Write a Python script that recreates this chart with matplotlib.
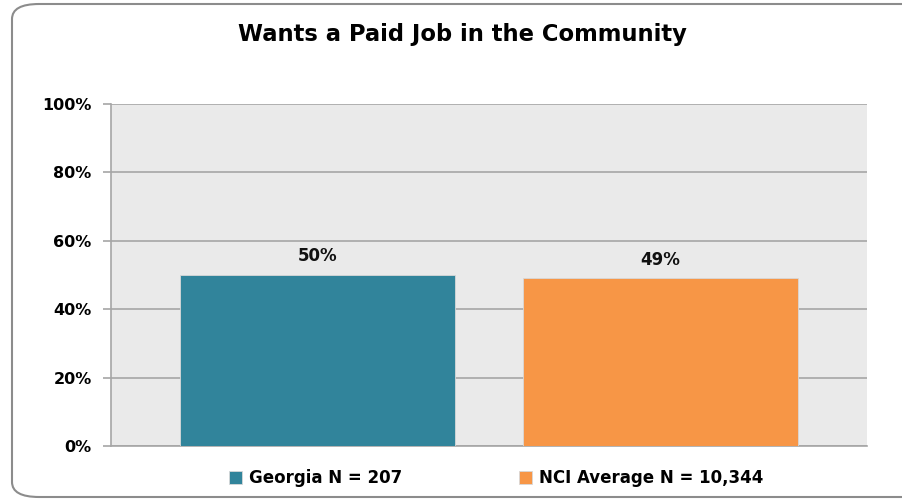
import matplotlib.pyplot as plt
from matplotlib.patches import FancyBboxPatch

plt.rcParams['font.family'] = ['DejaVu Sans']

# data
series = ['Georgia N = 207', 'NCI Average N = 10,344']
values = [50, 49]
colors = ['#31849B', '#F79646']
yticks = [0, 20, 40, 60, 80, 100]
title = 'Wants a Paid Job in the Community'

fig = plt.figure(figsize=(9.03, 5.01), dpi=100)

# rounded outer border (right side runs off the image)
border = FancyBboxPatch((12 / 903, 4 / 501), 920 / 903, 493 / 501,
                        boxstyle='round,pad=0,rounding_size=0.03',
                        transform=fig.transFigure, facecolor='white',
                        edgecolor='#8C8C8C', linewidth=1.5, zorder=-5)
fig.patches.append(border)

ax = fig.add_axes([111 / 903, 1 - 446 / 501, 756 / 903, 342 / 501])
ax.set_facecolor('#EAEAEA')

handles = []
for i, (name, v, c) in enumerate(zip(series, values, colors)):
    b = ax.bar(i, v, width=0.8, color=c, edgecolor='#D8D8D8', linewidth=0.6,
               label=name, zorder=3)
    handles.append(b)
    ax.text(i, v + 2.8, f'{v}%', ha='center', va='bottom', fontsize=12,
            fontweight='bold', color='#111111')

ax.set_xlim(-0.602, 1.602)
ax.set_ylim(0, 100)
ax.set_yticks(yticks)
ax.set_yticklabels([f'{t}%' for t in yticks], fontsize=11.5, fontweight='bold')
ax.set_xticks([])
ax.yaxis.grid(True, color='#A6A6A6', linewidth=1.2, zorder=1)
ax.set_axisbelow(True)
ax.tick_params(axis='y', length=6, color='#A6A6A6', width=1.2, pad=8)

for s in ['top', 'right']:
    ax.spines[s].set_visible(False)
for s in ['left', 'bottom']:
    ax.spines[s].set_color('#A6A6A6')
    ax.spines[s].set_linewidth(1.2)

fig.text(462 / 903, 1 - 35 / 501, title, ha='center', va='center',
         fontsize=16.3, fontweight='bold')

fig.legend(handles=handles, loc='center', bbox_to_anchor=(496 / 903, 1 - 478 / 501),
           ncol=2, frameon=False, prop={'size': 12, 'weight': 'bold'},
           handlelength=0.8, handleheight=0.8, handletextpad=0.4,
           columnspacing=7)

fig.savefig('out.png', dpi=100)
